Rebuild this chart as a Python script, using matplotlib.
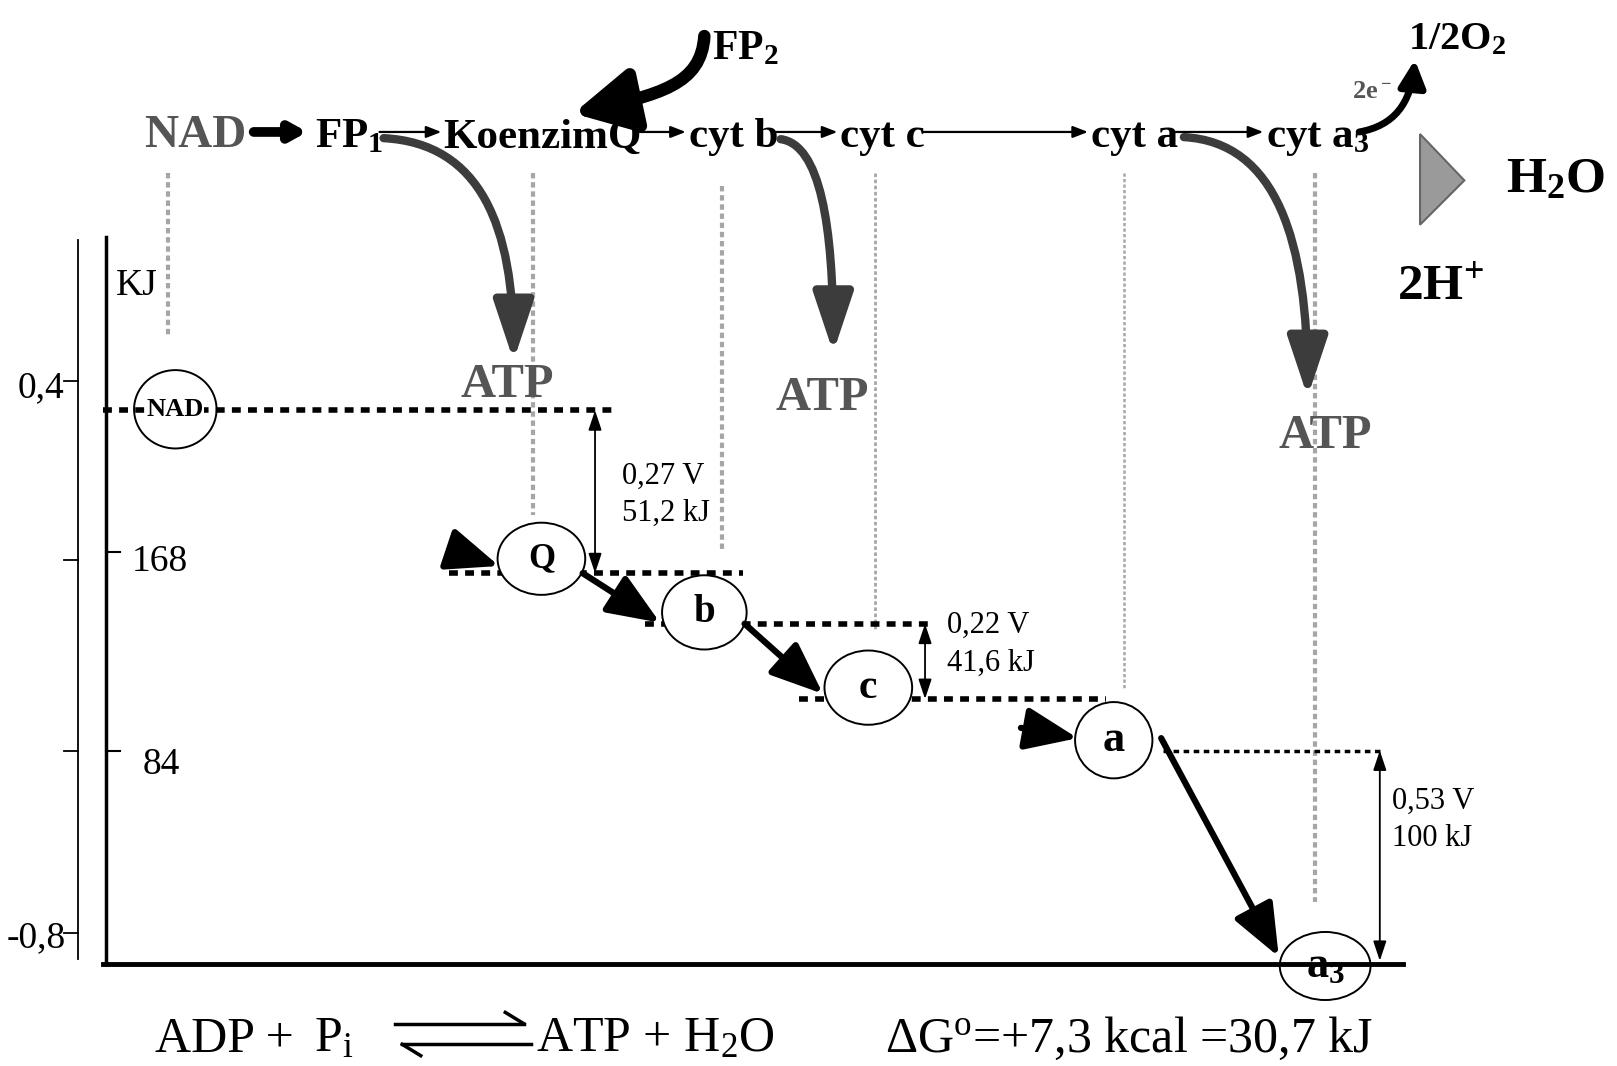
import matplotlib
matplotlib.use('Agg')
import matplotlib.pyplot as plt
from matplotlib.patches import Ellipse, FancyArrowPatch, Polygon
from matplotlib.path import Path

plt.rcParams['font.family'] = ['Liberation Serif', 'DejaVu Serif']
plt.rcParams['mathtext.default'] = 'regular'

# drawing space (pixels of the reference, y grows downwards)
W, H = 1568, 1034

# top row of the chain
chain_labels = ['FP$_1$', 'KoenzimQ', 'cyt b', 'cyt c', 'cyt a', 'cyt a$_3$']
chain_x = [305, 430, 668, 815, 1058, 1228]
chain_links = [(368, 428), (620, 665), (752, 812), (895, 1055), (1140, 1225)]

# carriers on the energy scale
carriers = ['NAD', 'Q', 'b', 'c', 'a', 'a$_3$']
carrier_x = [170, 525, 683, 842, 1080, 1285]
carrier_y = [397, 542, 594, 667, 718, 937]
carrier_w = [80, 85, 82, 85, 75, 88]
carrier_h = [76, 70, 72, 72, 74, 66]
carrier_fs = [19, 25, 28, 30, 32, 32]
carrier_fill = ['none', 'white', 'white', 'white', 'white', 'none']

# dotted redox levels
level_y = [398, 556, 605, 678, 728]
level_x0 = [100, 435, 625, 775, 1128]
level_x1 = [595, 720, 905, 1072, 1340]
level_lw = [4, 4, 4, 4, 2.5]

# potential drops
drop_x = [577, 897, 1338]
drop_top = [398, 605, 728]
drop_bot = [556, 678, 932]
drop_volt = ['0,27 V', '0,22 V', '0,53 V']
drop_kj = ['51,2 kJ', '41,6 kJ', '100 kJ']
drop_tx = [603, 918, 1350]
drop_ty = [462, 607, 777]

# grey guide lines
guide_x = [163, 517, 700, 848, 1090, 1275]
guide_top = [168, 168, 180, 168, 168, 168]
guide_bot = [328, 500, 535, 612, 668, 875]
guide_lw = [3, 3, 3, 2, 1.8, 3]

# ATP branches
atp_start = [(372, 134), (757, 135), (1148, 133)]
atp_tip = [(498, 350), (808, 342), (1268, 385)]
atp_label_x = [492, 797, 1285]
atp_label_y = [385, 398, 435]

fig = plt.figure(figsize=(16.17, 10.66), dpi=100)
ax = fig.add_axes([0, 0, 1, 1])
ax.set_xlim(0, W)
ax.set_ylim(H, 0)
ax.axis('off')

bold = dict(fontweight='bold')

# top row
ax.text(140, 143, 'NAD', fontsize=34, color='#555555', va='baseline', **bold)
for lab, x in zip(chain_labels, chain_x):
    ax.text(x, 143, lab, fontsize=31, va='baseline', **bold)
ax.add_patch(FancyArrowPatch((246, 128), (298, 128), arrowstyle='-|>,head_length=0.9,head_width=0.5',
                             mutation_scale=10, lw=7, color='black', shrinkA=0, shrinkB=0))
for x0, x1 in chain_links:
    ax.add_patch(FancyArrowPatch((x0, 128), (x1, 128), arrowstyle='-|>,head_length=0.9,head_width=0.35',
                                 mutation_scale=10, lw=1.6, color='black', shrinkA=0, shrinkB=0))

# FP2 feeding into coenzyme Q
ax.text(690, 58, 'FP$_2$', fontsize=30, va='baseline', **bold)
fp2 = Path([(683, 35), (680, 82), (640, 92), (556, 110)],
           [Path.MOVETO, Path.CURVE4, Path.CURVE4, Path.CURVE4])
ax.add_patch(FancyArrowPatch(path=fp2, arrowstyle='-|>,head_length=3.6,head_width=1.9',
                             mutation_scale=10, lw=9, color='black'))

# oxygen end
ax.text(1365, 48, '1/2O$_2$', fontsize=29, va='baseline', **bold)
ax.text(1311, 95, '2e$^-$', fontsize=19, color='#555555', va='baseline', **bold)
e2 = Path([(1318, 128), (1352, 122), (1368, 100), (1372, 58)],
          [Path.MOVETO, Path.CURVE4, Path.CURVE4, Path.CURVE4])
ax.add_patch(FancyArrowPatch(path=e2, arrowstyle='-|>,head_length=1.6,head_width=0.8',
                             mutation_scale=10, lw=5, color='black'))
ax.add_patch(Polygon([(1377, 130), (1420, 175), (1377, 218)], closed=True,
                     fc='#9a9a9a', ec='#666666', lw=1.5))
ax.text(1460, 186, 'H$_2$O', fontsize=37, va='baseline', **bold)
ax.text(1355, 290, '2H$^{+}$', fontsize=37, va='baseline', **bold)

# grey guide lines
for x, y0, y1, lw in zip(guide_x, guide_top, guide_bot, guide_lw):
    ax.plot([x, x], [y0, y1], color='#a6a6a6', lw=lw, ls=(0, (1.3, 0.9)), zorder=1)

# ATP curved arrows
for (sx, sy), (tx, ty), lx, ly in zip(atp_start, atp_tip, atp_label_x, atp_label_y):
    p = Path([(sx, sy), (sx + 0.75 * (tx - sx), sy + 5), (tx, sy + 0.4 * (ty - sy)), (tx, ty)],
             [Path.MOVETO, Path.CURVE4, Path.CURVE4, Path.CURVE4])
    ax.add_patch(FancyArrowPatch(path=p, arrowstyle='-|>,head_length=3.6,head_width=1.2',
                                 mutation_scale=10, lw=6, color='#3c3c3c', zorder=3))
    ax.text(lx, ly, 'ATP', fontsize=35, color='#555555', ha='center', va='baseline', **bold)

# axes
ax.plot([76, 76], [233, 930], color='black', lw=1.3)
ax.plot([103, 103], [230, 935], color='black', lw=2.5)
ax.plot([100, 1360], [935, 935], color='black', lw=3.5)
for y in [370, 543, 728, 905]:
    ax.plot([62, 76], [y, y], color='black', lw=1.3)
for y in [535, 728]:
    ax.plot([103, 116], [y, y], color='black', lw=1.5)
ax.text(62, 376, '0,4', fontsize=27, ha='right', va='center')
ax.text(64, 910, '-0,8', fontsize=27, ha='right', va='center')
ax.text(128, 545, '168', fontsize=27, va='center')
ax.text(138, 742, '84', fontsize=27, va='center')
ax.text(112, 277, 'KJ', fontsize=27, va='center')

# redox levels
for y, x0, x1, lw in zip(level_y, level_x0, level_x1, level_lw):
    ax.plot([x0, x1], [y, y], color='black', lw=lw, ls=(0, (1.6, 1.3)), zorder=2)

# carriers
for lab, x, y, w, h, fs, fc in zip(carriers, carrier_x, carrier_y, carrier_w, carrier_h,
                                   carrier_fs, carrier_fill):
    ax.add_patch(Ellipse((x, y), w, h, fc=fc, ec='black', lw=1.4, zorder=4))
    t = ax.text(x, y, lab, fontsize=fs, ha='center', va='center', zorder=5, **bold)
    if lab == 'NAD':
        t.set_bbox(dict(fc='white', ec='none', pad=0))

# electron flow arrows
flow = [((436, 533), (484, 549)), ((565, 556), (640, 604)), ((722, 605), (798, 673)),
        ((990, 706), (1045, 716)), ((1126, 716), (1240, 928))]
for a, b in flow:
    ax.add_patch(FancyArrowPatch(a, b, arrowstyle='-|>,head_length=3.2,head_width=1.3',
                                 mutation_scale=10, lw=4.5, color='black', shrinkA=0, shrinkB=0,
                                 zorder=6))

# potential drops
for x, y0, y1, v, kj, tx, ty in zip(drop_x, drop_top, drop_bot, drop_volt, drop_kj, drop_tx, drop_ty):
    ax.add_patch(FancyArrowPatch((x, y0), (x, y1), arrowstyle='<|-|>,head_length=1.2,head_width=0.4',
                                 mutation_scale=10, lw=1.3, color='black', shrinkA=0, shrinkB=0,
                                 zorder=6))
    ax.text(tx, ty, v, fontsize=22, va='center')
    ax.text(tx, ty + 36, kj, fontsize=22, va='center')

# ATP synthesis equation
ax.text(150, 1020, 'ADP +', fontsize=36, va='baseline')
ax.text(304, 1020, 'P$_i$', fontsize=36, va='baseline')
ax.plot([383, 508], [993, 993], color='black', lw=2.5)
ax.plot([508, 490], [993, 982], color='black', lw=2.5)
ax.plot([390, 515], [1013, 1013], color='black', lw=2.5)
ax.plot([390, 408], [1013, 1024], color='black', lw=2.5)
ax.text(520, 1020, 'ATP + H$_2$O', fontsize=36, va='baseline')
ax.text(858, 1020, '\u0394G$^o$=+7,3 kcal =30,7 kJ', fontsize=36, va='baseline')

fig.savefig('out.png', dpi=100)
